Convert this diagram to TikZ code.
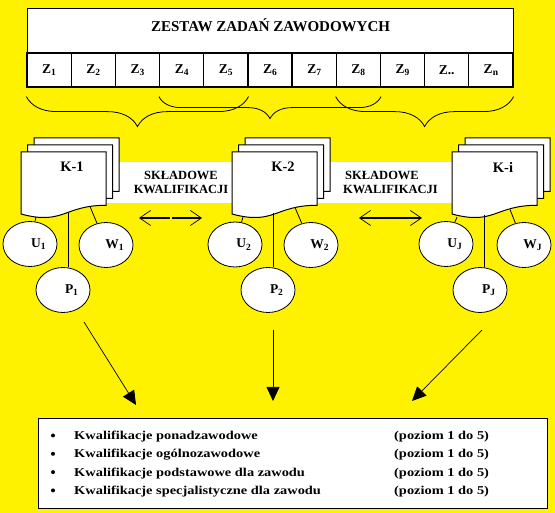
\documentclass[tikz,border=0pt]{standalone}
\usepackage{fontspec}
\setmainfont{Liberation Serif}
\newfontfamily\widefont[FakeStretch=1.2]{Liberation Serif}
\usetikzlibrary{shapes.geometric,arrows.meta,decorations.pathreplacing}
\newcommand{\zsub}[1]{\raisebox{-0.35ex}{\fontsize{9.5}{10}\selectfont #1}}
\newcommand{\docsheet}[2]{%
  \begin{scope}[shift={(#1,#2)}]
    \draw[sheet] (0,0) -- (85,0) -- (85,53.3) .. controls (42.5,53.3) and (42.5,73.5) .. (0,62) -- cycle;
  \end{scope}}
\newcommand{\kstack}[4]{%
  \docsheet{#1+13}{#2-14}%
  \docsheet{#1+6.5}{#2-7}%
  \docsheet{#1}{#2}%
  \node[klabel] (#3) at (#1+51,#2+15) {#4};}
\tikzset{
  sheet/.style={draw, fill=white, line width=1pt},
  frame/.style={draw, fill=white, line width=1.2pt, inner sep=0pt},
  cell/.style={frame, minimum width=44.18pt, minimum height=34pt, font=\fontsize{13.5}{14}\selectfont\bfseries},
  skill/.style={ellipse, draw, fill=white, line width=0.8pt, minimum width=54pt, minimum height=45pt, inner sep=0pt,
    font=\fontsize{13.5}{14}\selectfont\bfseries, execute at begin node=\hspace*{17pt}},
  klabel/.style={font=\fontsize{14.5}{15}\selectfont\bfseries, inner sep=0pt},
  brace/.style={decorate, decoration={brace, mirror, amplitude=#1}, line width=0.8pt},
  bandtext/.style={font=\fontsize{12.5}{13}\selectfont\bfseries, inner sep=0pt},
  leg/.style={line width=0.8pt},
  both/.style={{Straight Barb[length=11pt,width=15pt,line width=0.7pt]}-{Straight Barb[length=11pt,width=15pt,line width=0.7pt]}, line width=1.4pt},
  down/.style={-{Triangle[length=14pt,width=13pt]}, line width=0.7pt},
  dot/.style={circle, fill=black, minimum size=4pt, inner sep=0pt},
  listtext/.style={font=\widefont\fontsize{12}{13}\selectfont\bfseries, anchor=base west, inner sep=0pt},
}

\begin{document}
\begin{tikzpicture}[x=1pt, y=-1pt]
\useasboundingbox (0,0) rectangle (555,513);
\fill[yellow] (0,0) rectangle (555,513);

% zadania
\node[frame, minimum width=486pt, minimum height=45pt, anchor=north west] (title) at (27,8) {};
\node[font=\fontsize{15}{16}\selectfont\bfseries] (titletext) at ([yshift=5.5pt]title.center) {ZESTAW ZADAŃ ZAWODOWYCH};
\foreach \s [count=\i] in {\zsub{1},\zsub{2},\zsub{3},\zsub{4},\zsub{5},\zsub{6},\zsub{7},\zsub{8},\zsub{9},{..},\zsub{n}}
  \node[cell] (z\i) at (27+44.18*\i-22.09,70) {Z\s};

\draw[brace=30pt] ([yshift=-9pt]z1.south west) -- ([yshift=-9pt]z5.south east);
\draw[brace=22pt] ([yshift=-9pt]z4.south west) -- ([yshift=-9pt]z8.south east);
\draw[brace=30pt] ([yshift=-9pt]z8.south west) -- ([yshift=-9pt]z11.south east);

% kwalifikacje
\fill[white] (100,162) rectangle (240,203);
\fill[white] (318,162) rectangle (455,203);
\kstack{21}{152}{k1}{K-1}
\kstack{232}{152}{k2}{K-2}
\kstack{452}{152}{ki}{K-i}

\node[bandtext, anchor=base] (skl1) at (181,179.3) {SKŁADOWE};
\node[bandtext, anchor=base] (kw1) at (181,194) {KWALIFIKACJI};
\node[bandtext, anchor=base west] (skl2) at (345,179.3) {SKŁADOWE};
\node[bandtext, anchor=base west] (kw2) at (343,194) {KWALIFIKACJI};

\node[skill] (u1) at (30,244) {U\zsub{1}};
\node[skill] (w1) at (106,245) {W\zsub{1}};
\node[skill] (p1) at (63,290) {P\zsub{1}};
\node[skill] (u2) at (235,244.5) {U\zsub{2}};
\node[skill] (w2) at (311,245) {W\zsub{2}};
\node[skill] (p2) at (268,290) {P\zsub{2}};
\node[skill] (uj) at (446,244) {U\zsub{J}};
\node[skill] (wj) at (524,245) {W\zsub{J}};
\node[skill] (pj) at (480,290) {P\zsub{J}};

\coordinate (c1u) at (36,217);
\coordinate (c1w) at (90,206.5);
\coordinate (c1p) at (68,213);
\coordinate (c2u) at (243,217);
\coordinate (c2w) at (295,207.5);
\coordinate (c2p) at (273,213);
\coordinate (c3u) at (457,217);
\coordinate (c3w) at (510,209.5);
\coordinate (c3p) at (484,215);

\draw[leg] (c1u) -- (u1);
\draw[leg] (c1w) -- (w1);
\draw[leg] (c1p) -- (c1p |- p1.north);
\draw[leg] (c2u) -- (u2);
\draw[leg] (c2w) -- (w2);
\draw[leg] (c2p) -- (c2p |- p2.north);
\draw[leg] (c3u) -- (uj);
\draw[leg] (c3w) -- (wj);
\draw[leg] (c3p) -- (c3p |- pj.north);

% strzalki
\coordinate (a1l) at (139,218);
\coordinate (a1r) at (202,218);
\coordinate (a2l) at (359,218);
\coordinate (a2r) at (422,218);
\draw[both, dash pattern=on 30.5pt off 2pt] (a1l) -- (a1r);
\draw[both] (a2l) -- (a2r);

\coordinate (s1) at (84,322);
\coordinate (e1) at (136,405);
\coordinate (s2) at (273,330);
\coordinate (e2) at (273,401);
\coordinate (s3) at (482,330);
\coordinate (e3) at (412,401);
\draw[down] (s1) -- (e1);
\draw[down] (s2) -- (e2);
\draw[down] (s3) -- (e3);

% poziomy
\node[frame, line width=1pt, minimum width=509pt, minimum height=90pt, anchor=north west] (quals) at (38,418) {};
\foreach \q [count=\i] in {ponadzawodowe,ogólnozawodowe,podstawowe dla zawodu,specjalistyczne dla zawodu}{
  \node[dot] (d\i) at (53,421.2+18.3*\i-4) {};
  \node[listtext] (q\i) at (74,421.2+18.3*\i) {Kwalifikacje \q};
  \node[listtext] (l\i) at (394,421.2+18.3*\i) {(poziom 1 do 5)};
}
\end{tikzpicture}
\end{document}
